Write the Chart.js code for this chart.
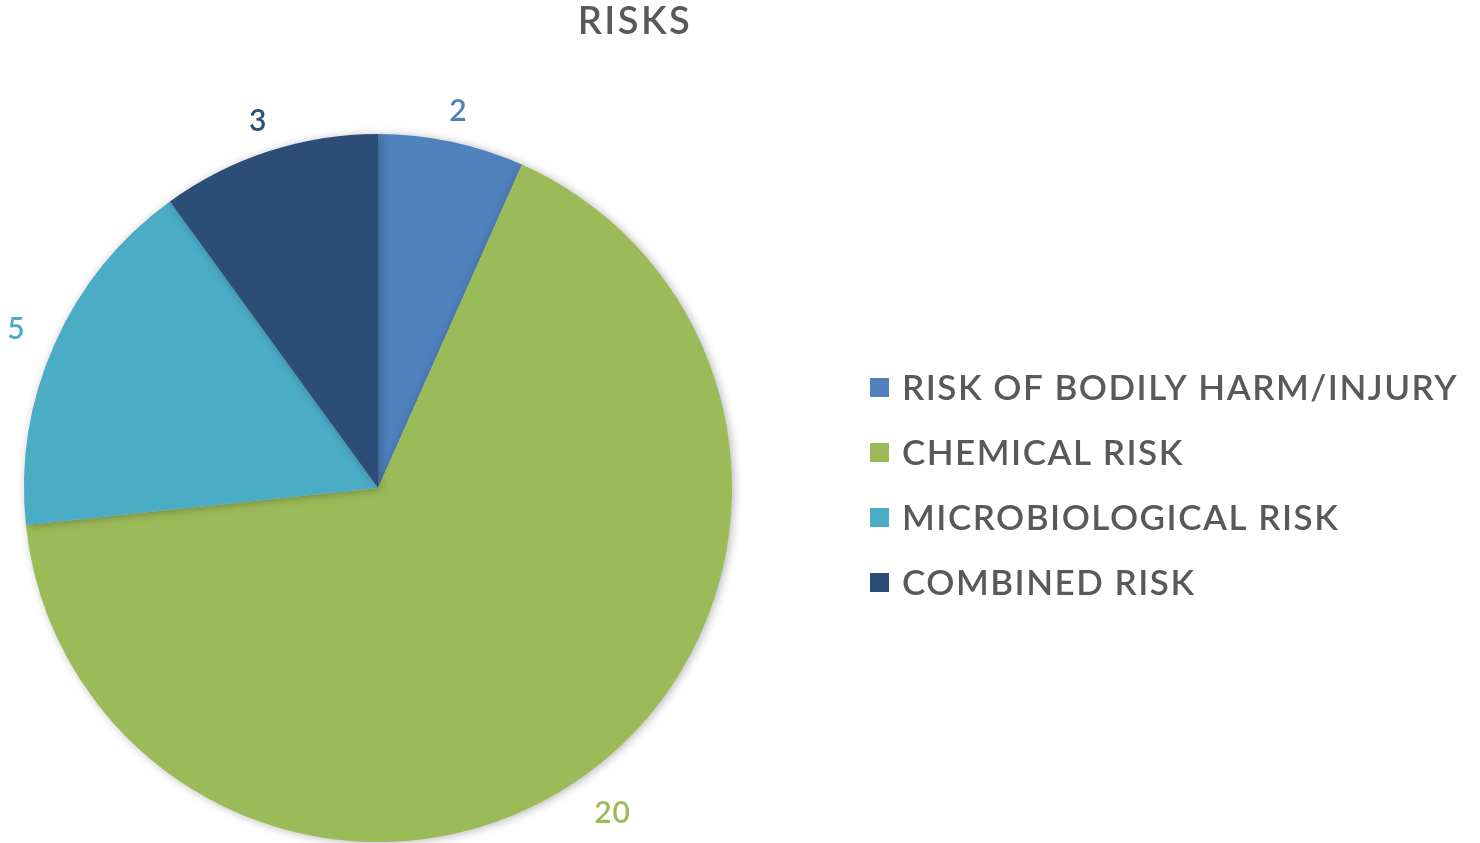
<!DOCTYPE html>
<html>
<head>
<meta charset="utf-8">
<script src="https://cdn.jsdelivr.net/npm/chart.js@4.4.1/dist/chart.umd.min.js"></script>
<style>
  html, body { margin: 0; padding: 0; background: #fff; }
  #wrap { width: 1480px; height: 843px; position: relative; }
</style>
</head>
<body>
<div id="wrap"><canvas id="riskChart"></canvas></div>
<script>
const title = "RISKS";
const categories = ["RISK OF BODILY HARM/INJURY", "CHEMICAL RISK", "MICROBIOLOGICAL RISK", "COMBINED RISK"];
const counts = [2, 20, 5, 3];
const sliceColors = ["#4F81BD", "#9BBB59", "#4BACC6", "#2C4D75"];

const textGray = "#595959";

// title drawn at the spot Excel put it
const titlePlugin = {
  id: "titleText",
  afterDraw(chart) {
    const c = chart.ctx;
    c.save();
    c.font = "600 38px Lato";
    c.letterSpacing = "2.5px";
    c.fillStyle = textGray;
    c.textAlign = "center";
    c.textBaseline = "middle";
    c.fillText(title, 635, 22);
    c.restore();
  },
};

// legend on the right, built from the same arrays
const sideLegend = {
  id: "sideLegend",
  afterDraw(chart) {
    const c = chart.ctx;
    const colors = chart.data.datasets[0].backgroundColor;
    c.save();
    c.font = "600 35px Lato";
    c.letterSpacing = "1.5px";
    c.textAlign = "left";
    c.textBaseline = "middle";
    chart.data.labels.forEach((lab, i) => {
      const y = 388 + i * 65;
      c.fillStyle = colors[i];
      c.fillRect(870, y - 10, 19, 19);
      c.fillStyle = textGray;
      c.fillText(lab, 902, y + 1);
    });
    c.restore();
  },
};

// value labels outside each slice
const outsideLabels = {
  id: "outsideLabels",
  afterDatasetsDraw(chart) {
    const c = chart.ctx;
    const meta = chart.getDatasetMeta(0);
    c.save();
    c.font = "600 30px Lato";
    c.letterSpacing = "1px";
    c.textAlign = "center";
    c.textBaseline = "middle";
    meta.data.forEach((arc, i) => {
      const p = arc.getProps(["x", "y", "startAngle", "endAngle", "outerRadius"], true);
      const mid = (p.startAngle + p.endAngle) / 2;
      const txt = String(counts[i]);
      const w = c.measureText(txt).width;
      const d = p.outerRadius + 30 + Math.abs(Math.cos(mid)) * w * 0.7;
      c.fillStyle = sliceColors[i];
      c.fillText(txt, p.x + Math.cos(mid) * d, p.y + Math.sin(mid) * d + 2);
    });
    c.restore();
  },
};

// soft shadow round the pie
const pieShadow = {
  id: "pieShadow",
  beforeDatasetsDraw(chart) {
    const c = chart.ctx;
    c.save();
    c.shadowColor = "rgba(0,0,0,0.28)";
    c.shadowBlur = 10;
    c.shadowOffsetX = 2;
    c.shadowOffsetY = 1;
  },
  afterDatasetsDraw(chart) {
    chart.ctx.restore();
  },
};

const ctx = document.getElementById("riskChart");

new Chart(ctx, {
  type: "pie",
  data: {
    labels: categories,
    datasets: [
      {
        data: counts,
        backgroundColor: sliceColors,
        borderWidth: 0,
      },
    ],
  },
  options: {
    responsive: true,
    maintainAspectRatio: false,
    animation: false,
    layout: {
      padding: { left: 24, right: 748, top: 134, bottom: 1 },
    },
    plugins: {
      title: { display: false },
      tooltip: { enabled: false },
      legend: { display: false },
    },
  },
  plugins: [pieShadow, outsideLabels, sideLegend, titlePlugin],
});
</script>
</body>
</html>
